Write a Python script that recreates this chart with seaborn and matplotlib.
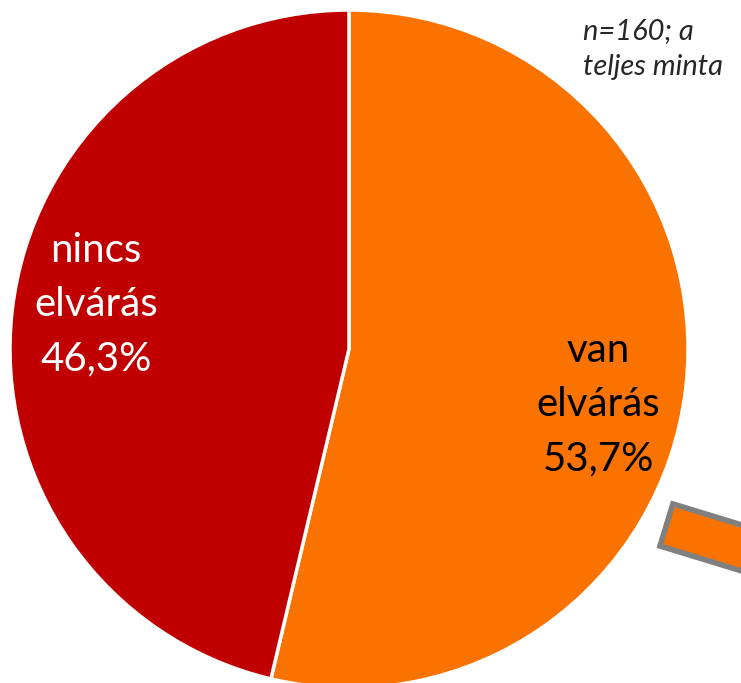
import matplotlib
matplotlib.use('Agg')
import matplotlib.pyplot as plt
import seaborn as sns
from matplotlib.patches import Rectangle

# chart data
labels = ['van\nelvárás', 'nincs\nelvárás']
shares = [53.7, 46.3]
colors = ['#FA7300', '#C00000']
text_colors = ['black', 'white']
note = 'n=160; a\nteljes minta'

sns.set_style('white')
plt.rcParams['font.family'] = ['Lato', 'DejaVu Sans']

fig = plt.figure(figsize=(7.41, 6.83), dpi=100)
ax = fig.add_axes([0, 0, 1, 1])

wedges, _ = ax.pie(shares, colors=colors, startangle=90, counterclock=False,
                   center=(349, 334), radius=339,
                   wedgeprops=dict(edgecolor='white', linewidth=2.5))

# slice labels
label_pos = [(598, 278), (96, 378)]
for lab, val, (x, y), tc in zip(labels, shares, label_pos, text_colors):
    txt = lab + '\n' + f'{val:.1f}%'.replace('.', ',')
    ax.text(x, y, txt, ha='center', va='center', fontsize=29, color=tc,
            linespacing=1.58)

# piece of the second (cut off) chart on the right
rect = Rectangle((660, 137), 110, 44, angle=-17, facecolor='#FA7300',
                 edgecolor='#808080', linewidth=4)
ax.add_patch(rect)

ax.text(583, 634, note, ha='left', va='center', fontsize=21, style='italic',
        linespacing=1.45)

ax.set_xlim(0, 741)
ax.set_ylim(0, 683)
ax.set_aspect('equal')
ax.axis('off')

plt.savefig('out.png', dpi=100)
